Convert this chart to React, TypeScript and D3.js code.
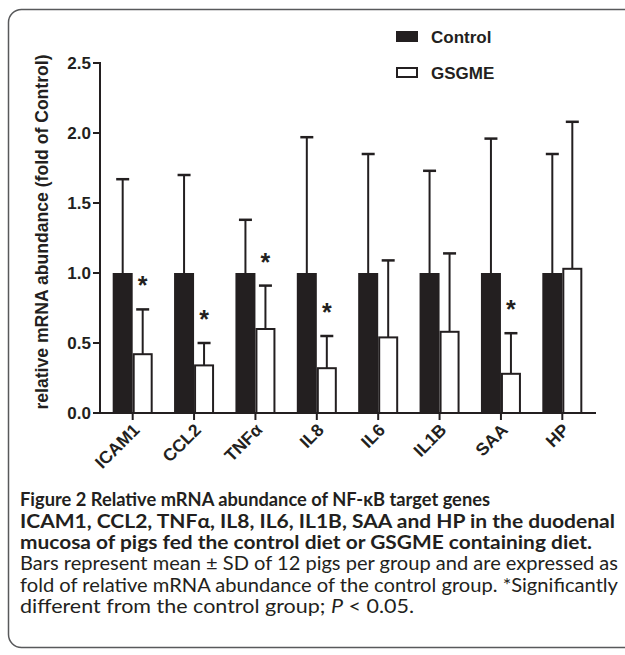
import * as d3 from "d3";

// 遺伝子ごとのデータ
const genes = ["ICAM1", "CCL2", "TNFα", "IL8", "IL6", "IL1B", "SAA", "HP"];
const groups = ["Control", "GSGME"];
const controlMean = [1, 1, 1, 1, 1, 1, 1, 1];
const controlTop = [1.67, 1.7, 1.38, 1.97, 1.85, 1.73, 1.96, 1.85];
const gsgmeMean = [0.42, 0.34, 0.6, 0.32, 0.54, 0.58, 0.28, 1.03];
const gsgmeTop = [0.74, 0.5, 0.91, 0.55, 1.09, 1.14, 0.57, 2.08];
const significant = [true, true, true, true, false, false, true, false];
const yTicks = [0, 0.5, 1, 1.5, 2, 2.5];

const ink = "#231f20";
const chartFont = "'Liberation Sans', Arial, sans-serif";
const captionFont = "Lato, 'Open Sans', sans-serif";

// キャプション (行ごと、[テキスト, 幅])
const captionBold = [
  ["Figure 2 Relative mRNA abundance of NF-κB target genes", 470],
  ["ICAM1, CCL2, TNFα, IL8, IL6, IL1B, SAA and HP in the duodenal", 595],
  ["mucosa of pigs fed the control diet or GSGME containing diet.", 572],
] as const;
const captionPlain = [
  ["Bars represent mean ± SD of 12 pigs per group and are expressed as", 598],
  ["fold of relative mRNA abundance of the control group. *Significantly", 598],
] as const;

const App = () => {
  const width = 625;
  const height = 655;

  const y = d3.scaleLinear().domain([0, 2.5]).range([413, 63]);
  const x = d3.scaleBand<string>().domain(genes).range([102, 593]);
  const inner = d3.scaleBand<string>().domain(groups).range([-20, 20]);
  const bw = inner.bandwidth();
  const cx = (g: string) => (x(g) ?? 0) + x.bandwidth() / 2;

  const bars = genes.flatMap((g, i) => [
    {g, group: "Control", mean: controlMean[i], top: controlTop[i], star: false},
    {g, group: "GSGME", mean: gsgmeMean[i], top: gsgmeTop[i], star: significant[i]},
  ]);

  return (
    <svg width={width} height={height} style={{position: "absolute", left: 0, top: 0}}>
      <rect x={8.5} y={9.5} width={640} height={638} rx={13} fill="none" stroke="#58595b" strokeWidth={1.5}/>

      {/* エラーバー (上側のみ) */}
      {bars.map((b, i) => {
        const ex = cx(b.g) + (inner(b.group) ?? 0) + bw / 2;
        return (
          <g key={"e" + i} stroke={ink} strokeWidth={2}>
            <line x1={ex} x2={ex} y1={y(b.mean)} y2={y(b.top)}/>
            <line x1={ex - 6.5} x2={ex + 6.5} y1={y(b.top)} y2={y(b.top)} strokeWidth={2.5}/>
          </g>
        );
      })}

      {/* 棒 */}
      {bars.map((b, i) => {
        const bx = cx(b.g) + (inner(b.group) ?? 0);
        const isCtl = b.group === "Control";
        return (
          <rect key={"b" + i}
                x={isCtl ? bx : bx + 1}
                y={y(b.mean)}
                width={isCtl ? bw : bw - 2}
                height={y(0) - y(b.mean)}
                fill={isCtl ? ink : "#fff"}
                stroke={isCtl ? "none" : ink}
                strokeWidth={2}/>
        );
      })}

      {/* 有意差マーク */}
      {bars.filter(b => b.star).map((b, i) => (
        <text key={"s" + i}
              x={cx(b.g) + (inner(b.group) ?? 0) + bw / 2}
              y={y(b.top) - 15}
              textAnchor="middle" fontFamily={chartFont} fontWeight="bold" fontSize={25} fill={ink}>*</text>
      ))}

      {/* Y軸 */}
      <line x1={100} x2={100} y1={y(2.5) - 1} y2={y(0) + 1} stroke={ink} strokeWidth={2}/>
      {yTicks.map(t => (
        <g key={t}>
          <line x1={93} x2={100} y1={y(t)} y2={y(t)} stroke={ink} strokeWidth={2}/>
          <text x={91} y={y(t) + 6} textAnchor="end" fontFamily={chartFont} fontWeight="bold" fontSize={17} fill={ink}>
            {d3.format(".1f")(t)}
          </text>
        </g>
      ))}
      <text transform="translate(48,232) rotate(-90)" textAnchor="middle" fontFamily={chartFont} fontWeight="bold"
            fontSize={17.6} fill={ink}>relative mRNA abundance (fold of Control)</text>

      {/* X軸 */}
      <line x1={99} x2={596} y1={y(0)} y2={y(0)} stroke={ink} strokeWidth={2}/>
      {genes.map(g => (
        <g key={g}>
          <line x1={cx(g)} x2={cx(g)} y1={y(0)} y2={y(0) + 7} stroke={ink} strokeWidth={2}/>
          <text transform={`translate(${cx(g) + 8},${y(0) + 18}) rotate(-45)`} textAnchor="end"
                fontFamily={chartFont} fontWeight="bold" fontSize={17.5} fill={ink}>{g}</text>
        </g>
      ))}

      {/* 凡例 */}
      <rect x={396} y={31} width={22} height={11} fill={ink}/>
      <text x={431} y={43} fontFamily={chartFont} fontWeight="bold" fontSize={17} fill={ink}>Control</text>
      <rect x={397} y={68} width={20} height={9} fill="#fff" stroke={ink} strokeWidth={2}/>
      <text x={431} y={79} fontFamily={chartFont} fontWeight="bold" fontSize={17} fill={ink}>GSGME</text>

      {/* キャプション */}
      {captionBold.map(([t, w], i) => (
        <text key={"cb" + i} x={20} y={506 + i * 21.6} fontFamily={captionFont} fontWeight="bold" fontSize={19.5}
              fill={ink} textLength={w} lengthAdjust="spacingAndGlyphs">{t}</text>
      ))}
      {captionPlain.map(([t, w], i) => (
        <text key={"cp" + i} x={20} y={570 + i * 21.6} fontFamily={captionFont} fontSize={18.5}
              fill={ink} textLength={w} lengthAdjust="spacingAndGlyphs">{t}</text>
      ))}
      <text x={20} y={613.2} fontFamily={captionFont} fontSize={18.5} fill={ink} textLength={394}
            lengthAdjust="spacingAndGlyphs">different from the control group; <tspan fontStyle="italic">P</tspan> &lt; 0.05.</text>
    </svg>
  );
};

export default App;
